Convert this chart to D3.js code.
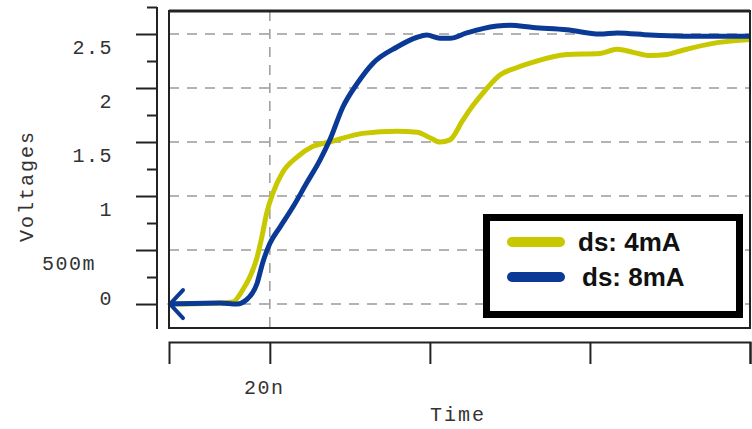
<!DOCTYPE html>
<html>
<head>
<meta charset="utf-8">
<script src="https://cdn.jsdelivr.net/npm/d3@7"></script>
<style>
  body { margin: 0; background: #fff; }
  svg { display: block; }
</style>
</head>
<body>
<svg id="chart" width="752" height="429"></svg>
<script>
// ---- data (time in ns, voltage in V) ----
var seriesNames = ["ds: 4mA", "ds: 8mA"];
var seriesColors = ["#c8c800", "#0a3a96"];

var time4mA = [7.4, 13.75, 15.4, 16.6, 17.5, 18.4, 19.0, 19.6, 20.4, 21.6, 23.4, 25.4, 27.5, 31.6, 35.9, 38.4, 40.0, 41.25, 42.5, 44.1, 45.0, 46.6, 48.75, 50.9, 52.9, 57.1, 61.25, 63.4, 65.4, 67.5, 69.6, 71.6, 75.9, 80.0];
var volt4mA = [0, 0.01, 0.02, 0.13, 0.25, 0.43, 0.62, 0.84, 1.03, 1.22, 1.36, 1.46, 1.50, 1.58, 1.60, 1.59, 1.54, 1.50, 1.52, 1.70, 1.80, 1.95, 2.12, 2.19, 2.24, 2.31, 2.32, 2.36, 2.33, 2.30, 2.31, 2.35, 2.42, 2.45];

var time8mA = [7.4, 13.75, 15.9, 17.1, 18.4, 19.1, 20.0, 21.25, 22.9, 24.6, 26.25, 27.5, 29.1, 30.9, 32.9, 35.9, 38.4, 39.6, 41.25, 42.5, 44.6, 46.6, 50.0, 52.9, 57.1, 61.25, 63.4, 67.5, 71.6, 75.9, 80.0];
var volt8mA = [0, 0.01, 0.0, 0.04, 0.19, 0.38, 0.56, 0.71, 0.90, 1.12, 1.33, 1.52, 1.82, 2.04, 2.23, 2.38, 2.47, 2.49, 2.46, 2.46, 2.51, 2.55, 2.58, 2.56, 2.54, 2.50, 2.51, 2.49, 2.48, 2.48, 2.48];

var yTickValues = [0, 0.5, 1, 1.5, 2, 2.5];
var yTickLabels = ["0", "500m", "1", "1.5", "2", "2.5"];
var yMinorValues = [0.25, 0.75, 1.25, 1.75, 2.25, 2.75];
var xTickValues = [20, 40, 60, 80];
var xTickLabels = ["20n", "", "", ""];

var svg = d3.select("#chart");
var monoFont = "'Liberation Mono', 'DejaVu Sans Mono', monospace";

// ---- scales ----
var x = d3.scaleLinear().domain([7.4, 80]).range([169, 750]);
var y = d3.scaleLinear().domain([-0.222, 2.713]).range([328, 11]);

// ---- grid ----
var grid = svg.append("g").attr("class", "grid");
grid.selectAll("line.h")
  .data(yTickValues)
  .enter().append("line")
  .attr("x1", x.range()[0]).attr("x2", x.range()[1])
  .attr("y1", d => y(d)).attr("y2", d => y(d))
  .attr("stroke", "#9a9a9a").attr("stroke-width", 1.5)
  .attr("stroke-dasharray", "10,8");
grid.append("line")
  .attr("x1", x(20)).attr("x2", x(20))
  .attr("y1", y.range()[1]).attr("y2", y.range()[0])
  .attr("stroke", "#9a9a9a").attr("stroke-width", 1.5)
  .attr("stroke-dasharray", "10,8");

// ---- lines ----
var line = d3.line()
  .x(d => x(d[0]))
  .y(d => y(d[1]))
  .curve(d3.curveMonotoneX);

var data4 = time4mA.map((t, i) => [t, volt4mA[i]]);
var data8 = time8mA.map((t, i) => [t, volt8mA[i]]);

svg.append("path").datum(data4)
  .attr("fill", "none").attr("stroke", seriesColors[0])
  .attr("stroke-width", 5).attr("stroke-linejoin", "round")
  .attr("d", line);
svg.append("path").datum(data8)
  .attr("fill", "none").attr("stroke", seriesColors[1])
  .attr("stroke-width", 5).attr("stroke-linejoin", "round")
  .attr("d", line);

// arrow at the left end of the traces
var ax = x(time8mA[0]), ay = y(0);
svg.append("path")
  .attr("d", `M${ax + 14},${ay - 14} L${ax + 1},${ay} L${ax + 14},${ay + 14}`)
  .attr("fill", "none").attr("stroke", seriesColors[1])
  .attr("stroke-width", 4).attr("stroke-linecap", "round");

// ---- plot frame ----
svg.append("rect")
  .attr("x", x.range()[0]).attr("y", y.range()[1])
  .attr("width", x.range()[1] - x.range()[0])
  .attr("height", y.range()[0] - y.range()[1])
  .attr("fill", "none").attr("stroke", "#222").attr("stroke-width", 2);
svg.append("line")
  .attr("x1", x.range()[0]).attr("x2", x.range()[1])
  .attr("y1", y.range()[1]).attr("y2", y.range()[1])
  .attr("stroke", "#222").attr("stroke-width", 3);

// ---- y axis (detached, left of the frame) ----
var yAxisX = 157;
var yAxisG = svg.append("g").attr("transform", `translate(${yAxisX},0)`);
yAxisG.append("line")
  .attr("x1", 0).attr("x2", 0)
  .attr("y1", y(2.75)).attr("y2", 329)
  .attr("stroke", "#222").attr("stroke-width", 2);
yAxisG.append("g")
  .call(d3.axisLeft(y).tickValues(yMinorValues).tickSize(10).tickFormat(""))
  .call(g => g.select(".domain").remove())
  .call(g => g.selectAll(".tick line").attr("stroke", "#222").attr("stroke-width", 2));
yAxisG.append("g")
  .call(d3.axisLeft(y).tickValues(yTickValues).tickSize(21)
    .tickFormat((d, i) => yTickLabels[i]))
  .call(g => g.select(".domain").remove())
  .call(g => g.selectAll(".tick line").attr("stroke", "#222").attr("stroke-width", 2))
  .call(g => g.selectAll(".tick text")
    .attr("font-family", monoFont)
    .attr("font-size", "20px")
    .attr("letter-spacing", "1.5px")
    .attr("fill", "#333")
    .attr("x", d => d === 0.5 ? -61 : -44)
    .attr("dy", d => d === 0 ? "-0.0em" : "0.95em"));

// ---- x axis (detached, below the frame) ----
svg.append("g")
  .attr("transform", "translate(0,342)")
  .call(d3.axisBottom(x).tickValues(xTickValues).tickSize(22).tickSizeOuter(22)
    .tickFormat((d, i) => xTickLabels[i]))
  .call(g => g.select(".domain").attr("stroke", "#222").attr("stroke-width", 2))
  .call(g => g.selectAll(".tick line").attr("stroke", "#222").attr("stroke-width", 2))
  .call(g => g.selectAll(".tick text")
    .attr("font-family", monoFont)
    .attr("font-size", "20px")
    .attr("letter-spacing", "1.5px")
    .attr("fill", "#333")
    .attr("x", -6)
    .attr("y", 46)
    .attr("dy", "0.32em"));

// ---- axis titles ----
svg.append("text")
  .attr("transform", "translate(26,186) rotate(-90)")
  .attr("text-anchor", "middle").attr("dy", "0.35em")
  .attr("font-family", monoFont).attr("font-size", "20px")
  .attr("letter-spacing", "2px").attr("fill", "#333")
  .text("Voltages");
svg.append("text")
  .attr("x", 458).attr("y", 414)
  .attr("text-anchor", "middle").attr("dy", "0.35em")
  .attr("font-family", monoFont).attr("font-size", "20px")
  .attr("letter-spacing", "2px").attr("fill", "#333")
  .text("Time");

// ---- legend ----
var legend = svg.append("g");
legend.append("rect")
  .attr("x", 486.5).attr("y", 217.5).attr("width", 253).attr("height", 97)
  .attr("fill", "#fff").attr("stroke", "#000").attr("stroke-width", 7);
seriesNames.forEach(function(name, i) {
  var ly = 242 + i * 35;
  legend.append("line")
    .attr("x1", 512).attr("x2", 560).attr("y1", ly).attr("y2", ly)
    .attr("stroke", seriesColors[i]).attr("stroke-width", 10)
    .attr("stroke-linecap", "round");
  legend.append("text")
    .attr("x", 578 + i * 4).attr("y", ly).attr("dy", "0.36em")
    .attr("font-family", "'Liberation Sans', Arial, sans-serif")
    .attr("font-weight", "bold").attr("font-size", "26px").attr("fill", "#111")
    .text(name);
});
</script>
</body>
</html>
